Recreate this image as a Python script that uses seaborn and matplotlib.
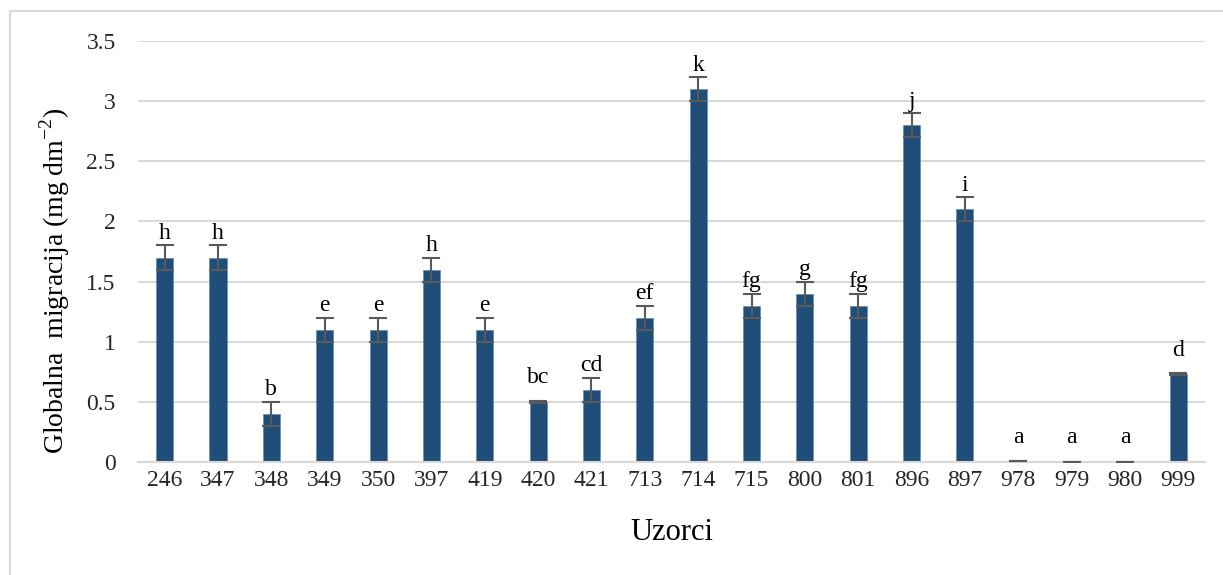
import matplotlib
matplotlib.use("Agg")
import matplotlib.pyplot as plt
import seaborn as sns
import pandas as pd
import numpy as np
from matplotlib.lines import Line2D

samples = ["246", "347", "348", "349", "350", "397", "419", "420", "421", "713",
           "714", "715", "800", "801", "896", "897", "978", "979", "980", "999"]
values = [1.7, 1.7, 0.4, 1.1, 1.1, 1.6, 1.1, 0.5, 0.6, 1.2,
          3.1, 1.3, 1.4, 1.3, 2.8, 2.1, 0.006, 0.004, 0.004, 0.73]
errors = [0.1, 0.1, 0.1, 0.1, 0.1, 0.1, 0.1, 0.01, 0.1, 0.1,
          0.1, 0.1, 0.1, 0.1, 0.1, 0.1, 0.0, 0.0, 0.0, 0.01]
letters = ["h", "h", "b", "e", "e", "h", "e", "bc", "cd", "ef",
           "k", "fg", "g", "fg", "j", "i", "a", "a", "a", "d"]
yticks = [0, 0.5, 1, 1.5, 2, 2.5, 3, 3.5]
ytick_labels = ["0", "0.5", "1", "1.5", "2", "2.5", "3", "3.5"]

sns.set_theme(style="white")
plt.rcParams["font.family"] = ["Liberation Serif", "DejaVu Serif"]
plt.rcParams["mathtext.fontset"] = "custom"
plt.rcParams["mathtext.rm"] = "Liberation Serif"

df = pd.DataFrame({"Uzorci": samples, "val": values})

fig = plt.figure(figsize=(12.23, 5.75), dpi=100)
ax = fig.add_axes([0.1128, 0.1965, 0.8725, 0.7322])

sns.barplot(data=df, x="Uzorci", y="val", order=samples, color="#1f4e79",
            saturation=1, width=0.32, ax=ax, edgecolor="#6f8fb0", linewidth=0.6,
            errorbar=None)

xs = np.arange(len(samples))
ax.errorbar(xs, values, yerr=errors, fmt="none", ecolor="#595959",
            elinewidth=1.5, capsize=6.5, capthick=1.5, zorder=3)

for x, v, t in zip(xs, values, letters):
    ax.text(x, v + 0.2, t, ha="center", va="center", fontsize=17, color="black")

ax.set_ylim(0, 3.5)
ax.set_xlim(-0.5, len(samples) - 0.5)
ax.set_yticks(yticks)
ax.set_yticklabels(ytick_labels, fontsize=17, color="#262626")
ax.tick_params(axis="x", labelsize=17, length=0, pad=6, labelcolor="#262626")
ax.tick_params(axis="y", length=0, pad=16)
ax.yaxis.grid(True, color="#d9d9d9", linewidth=1.5)
ax.set_axisbelow(True)
for s in ["top", "right", "left"]:
    ax.spines[s].set_visible(False)
ax.spines["bottom"].set_color("#d9d9d9")
ax.spines["bottom"].set_linewidth(1.5)

ax.set_xlabel("Uzorci", fontsize=22, labelpad=19, color="black")
ax.set_ylabel("Globalna  migracija (mg dm$^{\\mathregular{-2}}$)", fontsize=20,
              color="black")
ax.yaxis.set_label_coords(-0.062, 0.43)

# outer chart frame (left & top visible)
fig.add_artist(Line2D([10/1223, 10/1223], [0, 1 - 11/575], transform=fig.transFigure,
                      color="#d9d9d9", linewidth=1.5))
fig.add_artist(Line2D([10/1223, 1], [1 - 11/575, 1 - 11/575], transform=fig.transFigure,
                      color="#d9d9d9", linewidth=1.5))

fig.savefig("out.png", dpi=100, facecolor="white")
